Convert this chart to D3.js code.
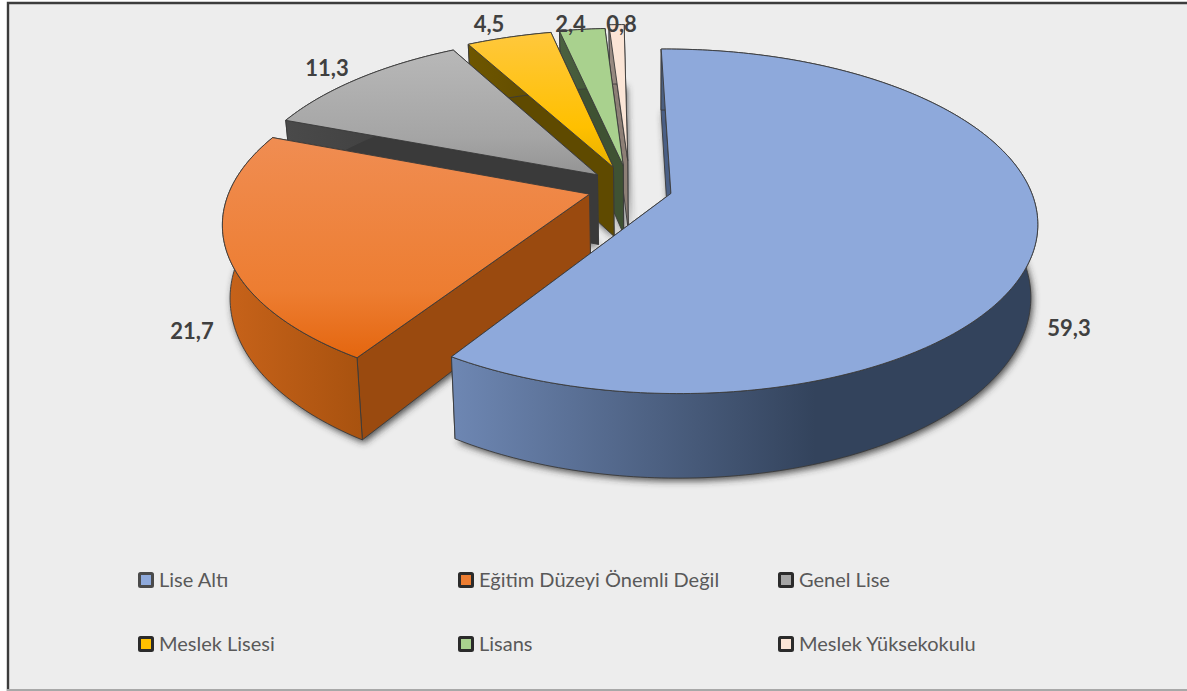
<!DOCTYPE html>
<html><head><meta charset="utf-8">
<script src="https://cdn.jsdelivr.net/npm/d3@7"></script>
<style>html,body{margin:0;padding:0;background:#fff}svg{display:block}</style>
</head><body><svg id="c" width="1187" height="691"></svg>
<script>
const categories = ["Lise Altı","Eğitim Düzeyi Önemli Değil","Genel Lise","Meslek Lisesi","Lisans","Meslek Yüksekokulu"];
const values = [59.3,21.7,11.3,4.5,2.4,0.8];
const labelTexts = ["59,3","21,7","11,3","4,5","2,4","0,8"];
const topColors = ["#8ea9db","#ed7d31","#a5a5a5","#ffc000","#a9d18e","#fbe5d6"];
const topLight  = ["#8ea9db","#f08d52","#b8b8b8","#ffc83d","#a9d18e","#fbe5d6"];
const topDark   = ["#8ea9db","#e4660f","#949494","#e8b000","#a9d18e","#fbe5d6"];
const cutWall   = ["#4a5f85","#9a4a0f","#3a3a3a","#5f4a00","#3f5233","#8d7f76"];
const rimLeft   = ["#6e87b3","#c8631a","#4a4a4a","#6e5600","#4b6140","#9a8c83"];
const rimRight  = ["#33435c","#a8520f","#3a3a3a","#5f4a00","#3f5233","#8d7f76"];
const explode   = [0.118,0.118,0.122,0.135,0.14,0.17];

const W=1187,H=691;
const svg=d3.select("#c");
svg.append("rect").attr("x",7).attr("y",2).attr("width",W-7).attr("height",H-2)
  .attr("fill","#ededed");
svg.append("path").attr("d",`M8,${H} V3 H${W}`).attr("fill","none").attr("stroke","#3c3c3c").attr("stroke-width",2.4);
svg.append("line").attr("x1",7).attr("x2",W).attr("y1",H-1).attr("y2",H-1).attr("stroke","#a8a8a8").attr("stroke-width",2);

const defs=svg.append("defs");
const blur=defs.append("filter").attr("id","blur").attr("x","-20%").attr("y","-20%").attr("width","140%").attr("height","140%");
blur.append("feGaussianBlur").attr("stdDeviation",3.5);

// world → screen, perspective pie
const k=0.161, cx=630, cy=188;
const sx=d3.scaleLinear().domain([-1,1]).range([cx-359,cx+359]);
const sy=d3.scaleLinear().domain([-1,1]).range([cy+166,cy-166]);
const depth=70.5, taper=0.018, vanish=650;
function proj(X,Z,bottom){
  const p=1+k*Z;
  let x=sx(X/p), y=sy(Z/p);
  if(bottom){ y+=depth/p; x+=(vanish-x)*taper; }
  return [x,y];
}
const pie=d3.pie().sort(null).value(d=>d).startAngle(-0.013).endAngle(2*Math.PI-0.013);
const arcs=pie(values);
function geom(a,i){
  const mid=(a.startAngle+a.endAngle)/2, e=explode[i];
  const ox=e*Math.sin(mid), oz=e*Math.cos(mid);
  const pt=(th,r,b)=>proj(ox+r*Math.sin(th),oz+r*Math.cos(th),b);
  const n=Math.max(6,Math.ceil((a.endAngle-a.startAngle)*60));
  const ths=d3.range(n+1).map(j=>a.startAngle+(a.endAngle-a.startAngle)*j/n);
  return {pt,ths,apex:b=>proj(ox,oz,b)};
}
const line=d3.line();
const topPath=g=>line([g.apex(false),...g.ths.map(t=>g.pt(t,1,false))])+"Z";
const botPath=g=>line([g.apex(true),...g.ths.map(t=>g.pt(t,1,true))])+"Z";
const cutPath=(g,th)=>line([g.apex(false),g.pt(th,1,false),g.pt(th,1,true),g.apex(true)])+"Z";
const rimPath=g=>line([...g.ths.map(t=>g.pt(t,1,false)),...g.ths.slice().reverse().map(t=>g.pt(t,1,true))])+"Z";

const geos=arcs.map(geom);
arcs.forEach((a,i)=>{
  const gT=defs.append("linearGradient").attr("id","t"+i).attr("x1",0).attr("x2",0).attr("y1",0).attr("y2",1);
  gT.append("stop").attr("offset","0").attr("stop-color",topLight[i]);
  gT.append("stop").attr("offset","0.7").attr("stop-color",topColors[i]);
  gT.append("stop").attr("offset","1").attr("stop-color",topDark[i]);
  const gR=defs.append("linearGradient").attr("id","r"+i);
  gR.append("stop").attr("offset","0").attr("stop-color",rimLeft[i]);
  gR.append("stop").attr("offset",i==0?"0.62":"1").attr("stop-color",rimRight[i]);
  gR.append("stop").attr("offset","1").attr("stop-color",rimRight[i]);
});

// shadows
const order=d3.range(values.length).reverse();
svg.append("g").attr("filter","url(#blur)").attr("transform","translate(2,3)")
  .selectAll("path").data(order).join("path").attr("d",i=>botPath(geos[i])).attr("fill","#333").attr("fill-opacity",.85);

const slices=svg.selectAll("g.s").data(order).join("g").attr("class","s")
  .attr("stroke","#3a3a3a").attr("stroke-width",.9).attr("stroke-linejoin","round");
slices.append("path").attr("d",i=>cutPath(geos[i],arcs[i].endAngle)).attr("fill",i=>cutWall[i]);
slices.append("path").attr("d",i=>cutPath(geos[i],arcs[i].startAngle)).attr("fill",i=>cutWall[i]);
slices.append("path").attr("d",i=>rimPath(geos[i])).attr("fill",i=>`url(#r${i})`);
slices.append("path").attr("d",i=>topPath(geos[i])).attr("fill",i=>`url(#t${i})`);

// labels
const labelAt=[[1069,336],[192,339],[327,76],[489,32],[570.5,32],[621.5,32]];
svg.append("g").selectAll("text").data(labelTexts).join("text")
  .attr("x",(d,i)=>labelAt[i][0]).attr("y",(d,i)=>labelAt[i][1])
  .attr("text-anchor","middle").attr("font-family","Lato, 'Open Sans', sans-serif")
  .attr("font-weight",700).attr("font-size",22).attr("fill","#404040").text(d=>d);

// legend
const colX=d3.scaleOrdinal().domain([0,1,2]).range([138,458,778]);
const rowY=d3.scaleOrdinal().domain([0,1]).range([580,644]);
const lg=svg.append("g").selectAll("g").data(categories).join("g")
  .attr("transform",(d,i)=>`translate(${colX(i%3)},${rowY(Math.floor(i/3))})`);
lg.append("rect").attr("x",1.5).attr("y",-6.5).attr("width",13).attr("height",13).attr("rx",1)
  .attr("fill",(d,i)=>topColors[i]).attr("stroke",(d,i)=>i==0?"#4a4a4a":"#2b2b2b").attr("stroke-width",3);
lg.append("text").attr("x",21).attr("y",7).attr("font-family","Lato, 'Open Sans', sans-serif")
  .attr("font-size",20).attr("fill","#595959").text(d=>d);
</script></body></html>
